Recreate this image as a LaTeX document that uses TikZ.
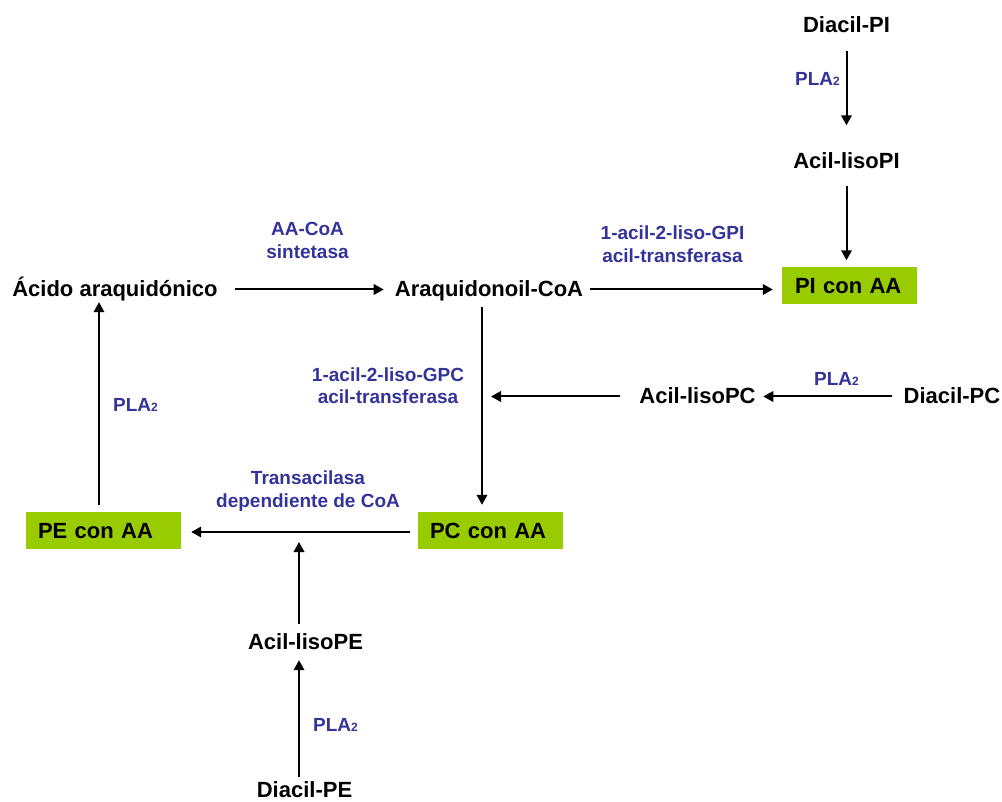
\documentclass[tikz,border=0pt]{standalone}
\usepackage{fontspec}
\setmainfont{Liberation Sans}
\usetikzlibrary{arrows.meta}
\definecolor{enzblue}{RGB}{51,51,153}
\definecolor{boxgreen}{RGB}{153,204,0}
\newcommand\subtwo{{\fontsize{12}{12}\selectfont 2}}
\tikzset{
  mol/.style={font=\fontsize{22}{26}\selectfont\bfseries, inner sep=0pt, text height=15pt, text depth=0pt},
  molbox/.style={mol, fill=boxgreen, inner xsep=12pt, inner ysep=0pt, minimum height=37pt, align=left},
  enz/.style={font=\fontsize{19}{23}\selectfont\bfseries, text=enzblue, inner sep=0pt, align=center, anchor=base},
  arr/.style={line width=2pt, -{Triangle[length=10pt,width=10.5pt]}},
}
\begin{document}
\begin{tikzpicture}[x=1pt,y=-1pt]
\useasboundingbox (0,0) rectangle (1002,802);
% molecules
\node[mol] (dpi) at (846.5,25) {Diacil-PI};
\node[mol] (lpi) at (846.5,161.5) {Acil-lisoPI};
\node[mol] (aa) at (115,289.5) {Ácido araquidónico};
\node[mol] (acoa) at (489,289.5) {Araquidonoil-CoA};
\node[mol] (lpc) at (697.5,396.5) {Acil-lisoPC};
\node[mol] (dpc) at (952,396.5) {Diacil-PC};
\node[mol] (lpe) at (305.5,642) {Acil-lisoPE};
\node[mol] (dpe) at (304.5,789.5) {Diacil-PE};
% boxes
\node[molbox, text width=109pt, inner xsep=13pt] (pi) at (849.5,286) {PI con AA};
\node[molbox, text width=121pt] (pc) at (490.5,530.5) {PC con AA};
\node[molbox, text width=131pt] (pe) at (103.5,530.5) {PE con AA};
% enzymes (base = baseline of the last line)
\node[enz] (e1) at (307.5,259) {AA-CoA\\sintetasa};
\node[enz] (e2) at (672.5,263) {1-acil-2-liso-GPI\\acil-transferasa};
\node[enz] (e3) at (388,404) {1-acil-2-liso-GPC\\acil-transferasa};
\node[enz] (e4) at (308,507) {Transacilasa\\dependiente de CoA};
\node[enz] (p1) at (817.5,86) {PLA\subtwo};
\node[enz] (p2) at (836.5,385) {PLA\subtwo};
\node[enz] (p3) at (135.5,412) {PLA\subtwo};
\node[enz] (p4) at (335.5,731) {PLA\subtwo};
% junction coordinates
\coordinate (jv) at (482,398);
\coordinate (jpc) at (491,396.5);
\coordinate (jpe) at (299,542);
\coordinate (xl) at (99,400);
% arrows
\draw[arr, shorten <=18pt, shorten >=28.5pt] (dpi) -- (lpi);
\draw[arr, shorten <=16.5pt, shorten >=7pt] (lpi) -- (lpi |- pi.north);
\draw[arr, shorten <=17pt, shorten >=11pt] (aa.east) -- (acoa.west);
\draw[arr, shorten <=7pt, shorten >=9pt] (acoa.east) -- (pi.west |- acoa.east);
\draw[arr, shorten <=10pt, shorten >=7pt] (acoa.south -| jv) -- (pc.north -| jv);
\draw[arr, shorten <=12pt, shorten >=7.5pt] (dpc.west) -- (lpc.east);
\draw[arr, shorten <=19.5pt] (lpc.west) -- (jpc);
\draw[arr, shorten <=8pt, shorten >=10pt] ([yshift=-1.5pt]pc.west) -- ([yshift=-1.5pt]pe.east);
\draw[arr, shorten <=5pt, shorten >=10.5pt] (dpe.north -| jpe) -- (lpe.south -| jpe);
\draw[arr, shorten <=10.5pt] (lpe.north -| jpe) -- (jpe);
\draw[arr, shorten <=7pt, shorten >=5pt] (pe.north -| xl) -- (aa.south -| xl);
\end{tikzpicture}
\end{document}
